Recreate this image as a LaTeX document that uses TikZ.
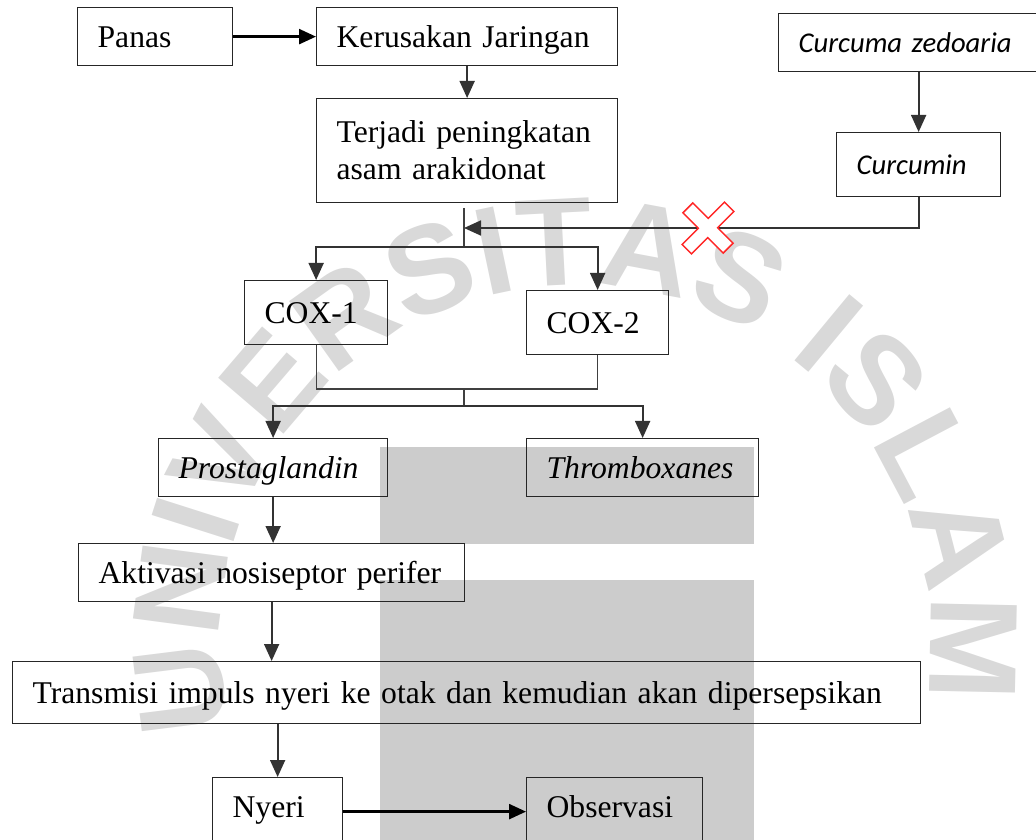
\documentclass[tikz,border=0pt]{standalone}
\usepackage{fontspec}
\setmainfont{Liberation Serif}
\newfontfamily\calibri{Carlito}
\newfontfamily\wmfont{Liberation Sans}
\usetikzlibrary{arrows.meta,decorations.text}

\tikzset{
  box/.style={draw=black!85, line width=0.25mm, anchor=north west, inner xsep=4mm, inner ysep=0pt, align=left, font=\fontsize{18}{21}\selectfont},
  one/.style={text height=12.4pt, text depth=0.5pt},
  herb/.style={box, font=\calibri\itshape\fontsize{16.3}{19.5}\selectfont},
  flow/.style={draw=black!80, line width=0.35mm, -{Triangle[length=3.4mm,width=3mm]}},
  bold flow/.style={draw=black, line width=0.5mm, -{Triangle[length=3.4mm,width=3mm]}},
  link/.style={draw=black!75, line width=0.22mm},
  cross/.style={draw=red!85, fill=white, line width=0.3mm, line join=miter},
}

\begin{document}
\begin{tikzpicture}[x=0.2mm, y=-0.2mm]
	\useasboundingbox (0,0) rectangle (1036,840);
	% watermark
	\path[decorate, decoration={text along path, text color=black!15,
		text={|\wmfont\bfseries\fontsize{71.1}{78}\selectfont|UNIVERSITAS ISLAM}}]
		(231,727.7) arc[start angle=165.7, end angle=400, radius=355];
	\fill[black!20] (380,447) rectangle (754,544);
	\fill[black!20] (380,580) rectangle (754,840);

	\node[box, one, text width=23mm, minimum height=11.6mm] (panas) at (77,7) {Panas};
	\node[box, one, text width=52.2mm, minimum height=11.6mm] (kerusakan) at (316,7) {Kerusakan Jaringan};
	\node[box, text width=52.2mm, minimum height=20.8mm] (terjadi) at (316,98) {Terjadi peningkatan\\asam arakidonat};
	\node[herb, text width=43.6mm, minimum height=11.6mm] (curcuma) at (778,13) {Curcuma zedoaria};
	\node[herb, text width=24.8mm, minimum height=12.8mm] (curcumin) at (836,132) {Curcumin};
	\node[box, one, text width=20.6mm, minimum height=12.8mm] (cox1) at (244,280) {COX-1};
	\node[box, one, text width=20.4mm, minimum height=12.8mm] (cox2) at (526,290) {COX-2};
	\node[box, one, text width=37.8mm, minimum height=11.6mm] (prosta) at (158,438) {\textit{Prostaglandin}};
	\node[box, one, text width=38.4mm, minimum height=11.6mm] (thrombo) at (526,438) {\textit{Thromboxanes}};
	\node[box, one, text width=69.2mm, minimum height=11.6mm] (aktivasi) at (78,543) {Aktivasi nosiseptor perifer};
	\node[box, one, text width=173.6mm, minimum height=12.4mm] (transmisi) at (12,661) {Transmisi impuls nyeri ke otak dan kemudian akan dipersepsikan};
	\node[box, one, text height=6.7pt, text width=18mm, minimum height=13.6mm] (nyeri) at (212,777) {Nyeri};
	\node[box, one, text height=6.7pt, text width=27.2mm, minimum height=13.6mm] (observasi) at (526,777) {Observasi};

	\coordinate (split) at (464,208);
	\coordinate (block) at (464,228);
	\coordinate (fork) at (464,247);
	\coordinate (merge) at (464,389);
	\coordinate (branch) at (464,406);

	\draw[bold flow] (panas) -- (kerusakan);
	\draw[flow] (kerusakan) -- (terjadi);
	\draw[flow] (curcumin.north |- curcuma.south) -- (curcumin.north);
	\draw[flow] (curcumin.south) |- (block);
	\draw[link] (split) -- (fork);
	\draw[flow] (fork) -| (cox1.north);
	\draw[flow] (fork) -| (cox2.north);
	\draw[link] (cox1.south) |- (merge) -| (cox2.south);
	\draw[link] (merge) -- (branch);
	\draw[flow] (branch) -| (prosta.north);
	\draw[flow] (branch) -| (thrombo.north);
	\draw[flow] (prosta.south) -- (prosta.south |- aktivasi.north);
	\draw[flow] (aktivasi.south) -- (aktivasi.south |- transmisi.north);
	\draw[flow] (transmisi.south -| nyeri.north) -- (nyeri.north);
	\draw[bold flow] (nyeri) -- (observasi);

	% blocked
	\begin{scope}[shift={(708,228)}, rotate=45, yscale=0.95]
		\draw[cross] (7,30) -- (-7,30) -- (-7,7) -- (-30,7) -- (-30,-7) -- (-7,-7) -- (-7,-30) -- (7,-30) -- (7,-7) -- (30,-7) -- (30,7) -- (7,7) -- cycle;
	\end{scope}
\end{tikzpicture}
\end{document}
